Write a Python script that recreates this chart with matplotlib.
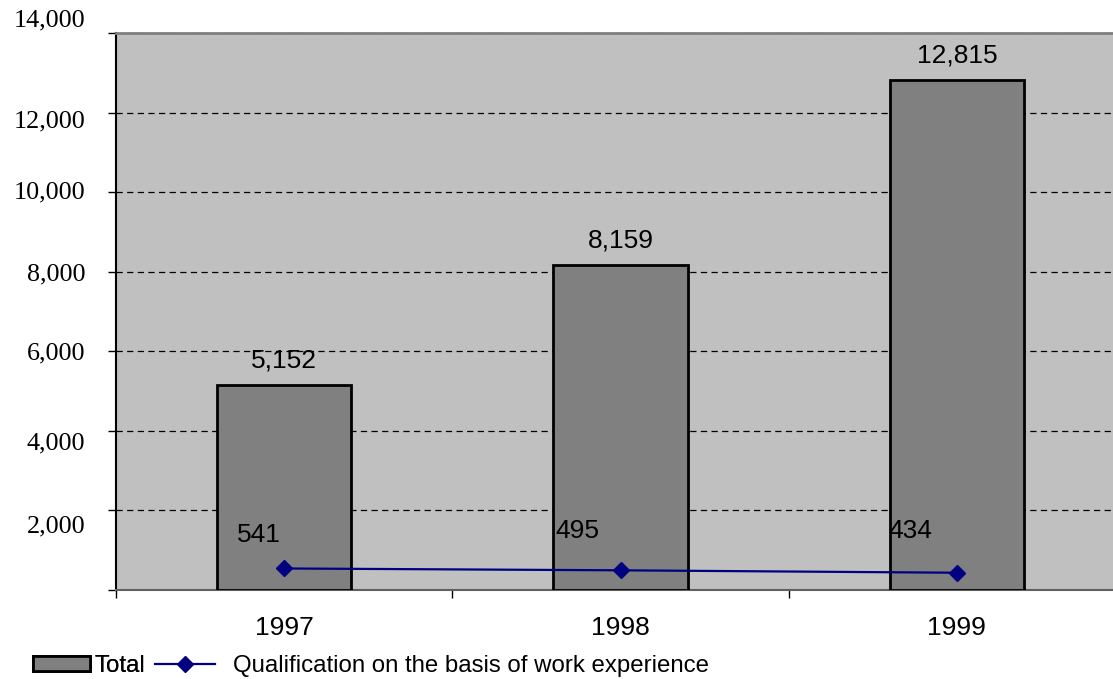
import matplotlib
matplotlib.use("Agg")
import matplotlib.pyplot as plt
import matplotlib.transforms as mtransforms
from matplotlib.lines import Line2D
from matplotlib.patches import Patch

years = ["1997", "1998", "1999"]
total = [5152, 8159, 12815]
qualification = [541, 495, 434]
yticks = [0, 2000, 4000, 6000, 8000, 10000, 12000, 14000]
ytick_labels = ["", "2,000", "4,000", "6,000", "8,000", "10,000", "12,000", "14,000"]

fig = plt.figure(figsize=(11.13, 6.79), dpi=100)
W, H = 1113, 679
ax = fig.add_axes([116 / W, (H - 590) / H, 1009 / W, 557 / H])
ax.set_facecolor("#C0C0C0")

x = list(range(len(years)))
ax.bar(x, total, width=0.40, color="#808080", edgecolor="black", linewidth=2, zorder=3)
ax.plot(x, qualification, color="#000080", linewidth=1.6, marker="D", markersize=8.5,
        markerfacecolor="#000080", markeredgecolor="#000080", zorder=4)

ax.set_xlim(-0.5, 2.5)
ax.set_ylim(0, 14000)
ax.set_yticks(yticks)
ax.set_yticklabels(ytick_labels, family="Liberation Serif", fontsize=18.8)
ax.set_xticks([-0.5, 0.5, 1.5, 2.5])
ax.set_xticklabels([])
ax.set_xticks(x, minor=True)
ax.set_xticklabels(years, minor=True, family="Liberation Sans", fontsize=19)
ax.tick_params(axis="x", which="minor", length=0, pad=19)
ax.tick_params(axis="x", which="major", length=6, width=1, direction="out", color="black")
ax.tick_params(axis="y", length=6, width=1, direction="out", pad=16, color="black")

# per-label vertical offsets (pixels, positive = down) to mimic reference placement
yoffs = [0, 14, 10, 0, 0, -2, 6, -15]
for lab, dy in zip(ax.get_yticklabels(), yoffs):
    lab.set_transform(lab.get_transform() + mtransforms.ScaledTranslation(0, -dy / 100, fig.dpi_scale_trans))

ax.yaxis.grid(True, color="black", linestyle=(0, (5, 3.5)), linewidth=0.9, zorder=1)
ax.set_axisbelow(True)

ax.spines["right"].set_visible(False)
ax.spines["top"].set_color("#808080")
ax.spines["top"].set_linewidth(2)
ax.spines["bottom"].set_color("#606060")
ax.spines["bottom"].set_linewidth(1.5)
ax.spines["left"].set_color("black")
ax.spines["left"].set_linewidth(1.5)

for xi, v in zip(x, total):
    ax.annotate(f"{v:,}", (xi, v), xytext=(0, 9), textcoords="offset points",
                ha="center", va="bottom", family="Liberation Sans", fontsize=19)

qoffs = [(-25, 33), (-43, 39), (-47, 42)]
for xi, v, (dx, dy) in zip(x, qualification, qoffs):
    ax.annotate(f"{v:,}", (xi, v), xytext=(dx * 0.72, dy * 0.72), textcoords="offset points",
                ha="center", va="center", family="Liberation Sans", fontsize=19)

legprop = {"family": "Liberation Sans", "size": 17.3}
leg1 = fig.legend(handles=[Patch(facecolor="#808080", edgecolor="black", linewidth=2, label="Total")],
                  loc="center left", bbox_to_anchor=(33 / W, (H - 666) / H),
                  frameon=False, prop=legprop, handlelength=2.37, handleheight=0.55,
                  handletextpad=0.2, borderpad=0, borderaxespad=0)
fig.add_artist(leg1)
leg2 = fig.legend(handles=[Line2D([0], [0], color="#000080", linewidth=1.6, marker="D", markersize=8.5,
                                  markerfacecolor="#000080",
                                  label="Qualification on the basis of work experience")],
                  loc="center left", bbox_to_anchor=(155 / W, (H - 666) / H),
                  frameon=False, prop=legprop, handlelength=2.5,
                  handletextpad=0.75, borderpad=0, borderaxespad=0)

fig.savefig("out.png", dpi=100)
